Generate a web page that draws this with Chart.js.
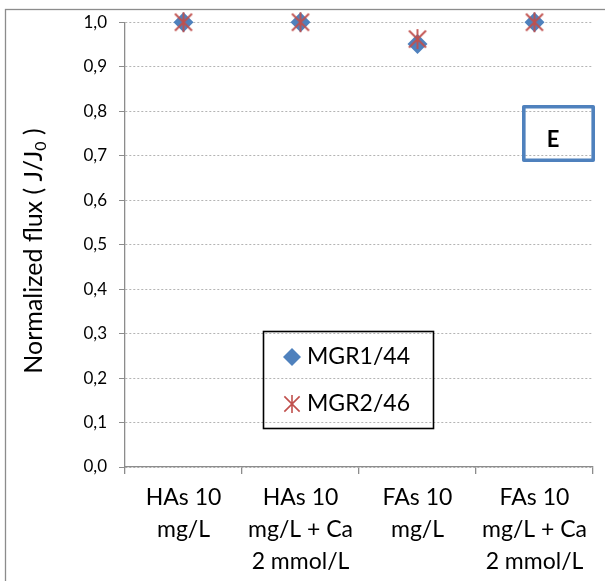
<!DOCTYPE html>
<html>
<head>
<meta charset="utf-8">
<script src="https://cdn.jsdelivr.net/npm/chart.js@4/dist/chart.umd.min.js"></script>
<style>
html,body{margin:0;padding:0;background:#fff;}
#wrap{width:605px;height:581px;position:relative;}
</style>
</head>
<body>
<div id="wrap"><canvas id="c" width="605" height="581"></canvas></div>
<script>
const categories = [
  ["HAs 10", "mg/L"],
  ["HAs 10", "mg/L + Ca", "2 mmol/L"],
  ["FAs 10", "mg/L"],
  ["FAs 10", "mg/L + Ca", "2 mmol/L"]
];
const mgr1 = [1.0, 1.0, 0.951, 1.0];
const mgr2 = [1.0, 1.0, 0.962, 1.0];
const seriesNames = ["MGR1/44", "MGR2/46"];
const yTickValues = [0, 0.1, 0.2, 0.3, 0.4, 0.5, 0.6, 0.7, 0.8, 0.9, 1.0];
const yTitle = "Normalized flux ( J/J";
const yTitleSub = "0";
const yTitleEnd = " )";
const panelLabel = "E";

const FONT = "Lato, 'Open Sans', sans-serif";
const BLUE = "#4F81BD";
const RED = "#C0504D";

function makeStar(size, color, lw) {
  const c = document.createElement('canvas');
  c.width = size; c.height = size;
  const g = c.getContext('2d');
  const m = size / 2, r = size / 2 - 1;
  const d = r * 0.85;
  g.strokeStyle = color; g.lineWidth = lw; g.lineCap = 'butt';
  g.beginPath();
  g.moveTo(m, m - r); g.lineTo(m, m + r);
  g.moveTo(m - d, m - d); g.lineTo(m + d, m + d);
  g.moveTo(m + d, m - d); g.lineTo(m - d, m + d);
  g.stroke();
  return c;
}
const starImg = makeStar(22, RED, 1.8);
const starLegend = makeStar(20, RED, 1.6);

const decor = {
  id: 'decor',
  beforeDraw(chart) {
    const ctx = chart.ctx;
    ctx.save();
    ctx.strokeStyle = '#8c8c8c';
    ctx.lineWidth = 1.3;
    ctx.strokeRect(5.5, 9.5, 800, 800);
    ctx.restore();
  },
  afterDraw(chart) {
    const ctx = chart.ctx;
    ctx.save();
    ctx.translate(34, 251);
    ctx.rotate(-Math.PI / 2);
    ctx.fillStyle = '#000';
    ctx.textBaseline = 'middle';
    const fMain = "25px " + FONT, fSub = "16px " + FONT;
    ctx.font = fMain; const w1 = ctx.measureText(yTitle).width;
    ctx.font = fSub; const w2 = ctx.measureText(yTitleSub).width;
    ctx.font = fMain; const w3 = ctx.measureText(yTitleEnd).width;
    let x = -(w1 + w2 + w3) / 2;
    ctx.textAlign = 'left';
    ctx.font = fMain; ctx.fillText(yTitle, x, 0); x += w1;
    ctx.font = fSub; ctx.fillText(yTitleSub, x, 7); x += w2;
    ctx.font = fMain; ctx.fillText(yTitleEnd, x, 0);
    ctx.restore();

    ctx.save();
    ctx.strokeStyle = '#000';
    ctx.lineWidth = 1.6;
    ctx.strokeRect(263.5, 331.5, 170, 97);
    ctx.fillStyle = BLUE;
    ctx.beginPath();
    const dx = 292, dy = 357, dr = 9;
    ctx.moveTo(dx, dy - dr); ctx.lineTo(dx + dr, dy); ctx.lineTo(dx, dy + dr); ctx.lineTo(dx - dr, dy); ctx.closePath();
    ctx.fill();
    ctx.drawImage(starLegend, 292 - 10, 404 - 10);
    ctx.fillStyle = '#000';
    ctx.font = "23px " + FONT;
    ctx.textAlign = 'left'; ctx.textBaseline = 'middle';
    ctx.fillText(seriesNames[0], 307, 357);
    ctx.fillText(seriesNames[1], 307, 404);
    ctx.restore();

    ctx.save();
    ctx.strokeStyle = BLUE;
    ctx.lineWidth = 3.6;
    ctx.lineJoin = 'round';
    ctx.strokeRect(523.8, 106.8, 69.4, 53.4);
    ctx.fillStyle = '#000';
    ctx.font = "bold 22px " + FONT;
    ctx.textAlign = 'center'; ctx.textBaseline = 'middle';
    ctx.fillText(panelLabel, 553, 140);
    ctx.restore();
  }
};

new Chart(document.getElementById('c'), {
  type: 'line',
  data: {
    labels: categories,
    datasets: [
      {
        label: seriesNames[0], data: mgr1, showLine: false, clip: false,
        pointStyle: 'rectRot', pointRadius: 10, pointHoverRadius: 10,
        backgroundColor: BLUE, borderColor: BLUE, pointBorderWidth: 0, order: 1
      },
      {
        label: seriesNames[1], data: mgr2, showLine: false, clip: false,
        pointStyle: starImg, pointRadius: 11, pointHoverRadius: 11,
        backgroundColor: RED, borderColor: RED, order: 0
      }
    ]
  },
  options: {
    responsive: false,
    animation: false,
    events: [],
    layout: { padding: { left: 0, top: 22, right: 10, bottom: 0 } },
    plugins: { legend: { display: false }, tooltip: { enabled: false } },
    scales: {
      x: {
        type: 'category',
        offset: true,
        afterFit(s) { s.height = 114; },
        grid: { display: true, drawOnChartArea: false, drawTicks: true, tickLength: 7, offset: true, color: '#8c8c8c', tickColor: '#8c8c8c', lineWidth: 1.3 },
        border: { display: true, color: '#8c8c8c', width: 1.3 },
        ticks: { color: '#000', font: { family: FONT, size: 23, lineHeight: 1.38 }, padding: 8, maxRotation: 0, autoSkip: false }
      },
      y: {
        min: 0, max: 1.0,
        afterFit(s) { s.width = 125; },
        afterBuildTicks(s) { s.ticks = yTickValues.map(v => ({ value: v })); },
        grid: { color: '#b4b4b4', lineWidth: 1, tickLength: 6, tickColor: '#8c8c8c', tickBorderDash: [], drawTicks: true },
        border: { display: true, color: '#8c8c8c', width: 1.3, dash: [2, 2] },
        ticks: {
          color: '#000', font: { family: FONT, size: 17 }, padding: 12,
          callback: (v) => Number(v).toFixed(1).replace('.', ',')
        }
      }
    }
  },
  plugins: [decor]
});
</script>
</body>
</html>
